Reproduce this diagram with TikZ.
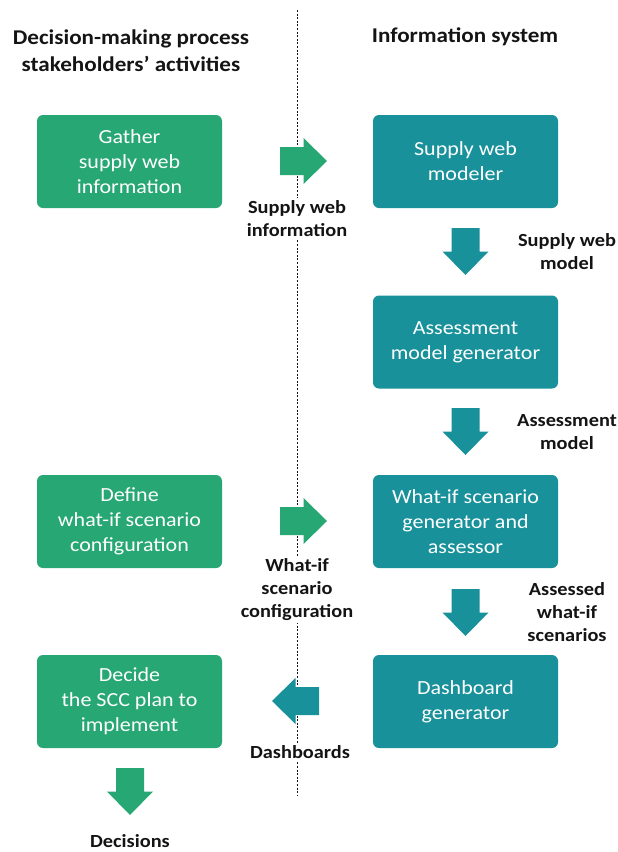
\documentclass[tikz,border=0pt]{standalone}
\usepackage{fontspec}
\setmainfont[FakeStretch=1.1]{Carlito}
\definecolor{sgreen}{RGB}{39,167,115}
\definecolor{steal}{RGB}{24,145,155}
\definecolor{ink}{RGB}{20,20,20}
\tikzset{
  blockarrow/.pic={\fill (0,-14) -- (23.5,-14) -- (23.5,-23) -- (47,0) -- (23.5,23) -- (23.5,14) -- (0,14) -- cycle;}
}
\begin{document}
\begin{tikzpicture}[x=1pt,y=-1pt,
  box/.style={rounded corners=6pt, minimum width=185pt, minimum height=93pt, text=white, align=center, font=\fontsize{20}{25}\selectfont, inner sep=0pt},
  gbox/.style={box, fill=sgreen},
  tbox/.style={box, fill=steal},
  lbl/.style={text=ink, font=\bfseries\fontsize{18.5}{23}\selectfont, align=center, fill=white, inner sep=2pt},
  hdr/.style={text=ink, font=\bfseries\fontsize{21}{27}\selectfont, align=center}]
\useasboundingbox (0,0) rectangle (618,852);
% divider
\coordinate (dtop) at (297,10);
\coordinate (dbot) at (297,795);
\draw[ink, line width=0.7pt, dash pattern=on 2pt off 1.6pt] (dtop) -- (dbot);
% headers
\node[hdr] (h1) at (131,50.5) {Decision-making process\\stakeholders’ activities};
\node[hdr] (h2) at (465,37) {Information system};
% boxes
\node[gbox] (g1) at (129.5,161.5) {Gather\\supply web\\information};
\node[gbox] (g2) at (129.5,521.5) {Define\\what-if scenario\\configuration};
\node[gbox] (g3) at (129.5,701.5) {Decide\\the SCC plan to\\implement};
\node[tbox] (t1) at (465.5,161.5) {Supply web\\modeler};
\node[tbox] (t2) at (465.5,342) {Assessment\\model generator};
\node[tbox] (t3) at (465.5,521.5) {What-if scenario\\generator and\\assessor};
\node[tbox] (t4) at (465.5,701.5) {Dashboard\\generator};
% labels
\node[lbl] (l1) at (297,218.5) {Supply web\\information};
\node[lbl] (l2) at (567,251.5) {Supply web\\model};
\node[lbl] (l3) at (567,432.5) {Assessment\\model};
\node[lbl] (l4) at (297,590) {What-if\\scenario\\configuration};
\node[lbl] (l5) at (567,612) {Assessed\\what-if\\scenarios};
\node[lbl] (l6) at (300,752) {Dashboards};
\node[lbl, fill=none, inner sep=0pt] (l7) at (130,841) {Decisions};
% block arrows
\pic[sgreen] at (280,161) {blockarrow};
\pic[sgreen] at (280,521) {blockarrow};
\pic[steal, rotate=-90] at (465.5,228) {blockarrow};
\pic[steal, rotate=-90] at (465.5,408) {blockarrow};
\pic[steal, rotate=-90] at (465.5,589) {blockarrow};
\pic[steal, rotate=180] at (319,701) {blockarrow};
\pic[sgreen, rotate=-90] at (130,768) {blockarrow};
\end{tikzpicture}
\end{document}
